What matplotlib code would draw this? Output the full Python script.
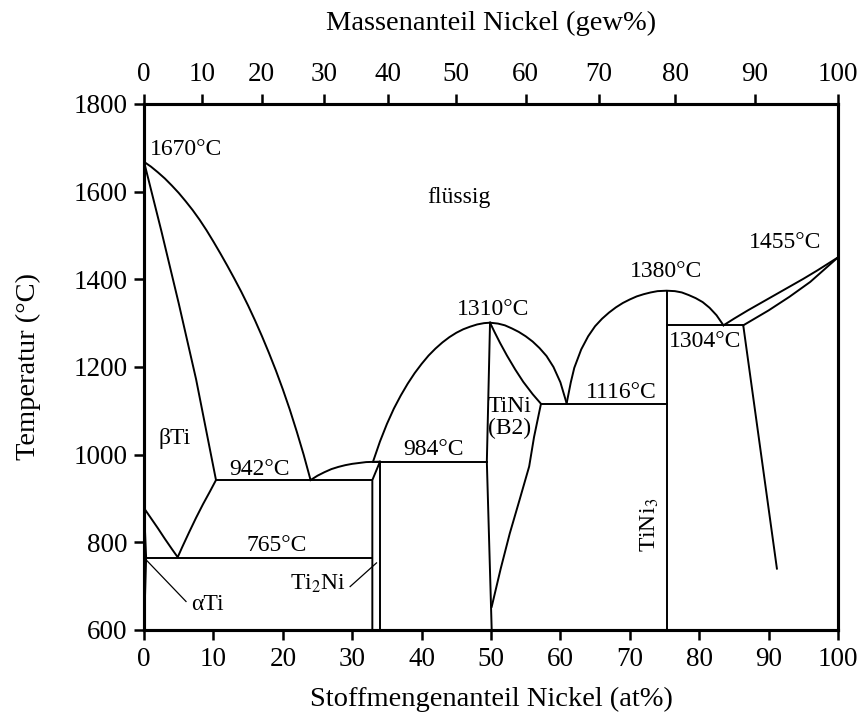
import numpy as np
import matplotlib.pyplot as plt

plt.rcParams['font.family'] = ['Liberation Serif', 'DejaVu Serif']
plt.rcParams['mathtext.fontset'] = 'stix'

# Phasengrenzen (x in at% Ni, T in °C)
liq_ti_x = [0, 1, 2, 3, 4, 5, 6, 7, 8, 9, 10, 11, 12, 13, 14, 15, 16, 17, 18, 19, 20, 21, 22, 23, 24]
liq_ti_T = [1668, 1657, 1644, 1630, 1614, 1597, 1578, 1558, 1536, 1512, 1486, 1459, 1431,
            1402, 1372, 1340, 1306, 1270, 1232, 1192, 1149, 1103, 1053, 1000, 942]

sol_ti_x = [0, 2.5, 5, 7.5, 10.37]
sol_ti_T = [1668, 1510, 1345, 1172, 942]

transus_x = [0, 1, 2, 3, 4, 4.85, 5.5, 6.5, 7.5, 8.5, 9.5, 10.37]
transus_T = [878, 855, 832, 808, 785, 766, 789, 823, 856, 887, 916, 942]

alpha_x = [0, 0.3, 0]
alpha_T = [878, 765, 600]

liq_eut_x = [24, 25, 26, 27, 28, 29, 30, 31, 32, 34]
liq_eut_T = [942, 952, 960, 967, 972, 976, 979, 981, 983, 984]

ti2ni_l_x = [32.9, 32.9, 34.0]
ti2ni_l_T = [600, 942, 984]
ti2ni_r_x = [34.0, 34.0]
ti2ni_r_T = [600, 984]

liq_tini_x = [33, 34, 35, 36, 37, 38, 39, 40, 41, 42, 43, 44, 45, 46, 47, 48, 49, 49.86,
              51, 52, 53, 54, 55, 56, 57, 58, 59, 60, 60.9]
liq_tini_T = [984, 1030, 1070, 1105, 1135, 1162, 1186, 1207, 1226, 1242, 1256, 1268, 1278,
              1286, 1292, 1297, 1300, 1301, 1299, 1295, 1288, 1280, 1270, 1258, 1243, 1225,
              1200, 1165, 1117]

tini_l_x = [49.86, 49.4, 50.1]
tini_l_T = [1301, 984, 600]
tini_r_x = [49.86, 50.5, 51.3, 52.3, 53.5, 54.65, 56, 57.2, 56.2, 55.5, 54.1, 52.7, 51.4, 50.1]
tini_r_T = [1301, 1280, 1255, 1226, 1194, 1166, 1138, 1116, 1040, 973, 896, 820, 740, 653]

liq_tini3_x = [60.9, 61.5, 62, 63, 64, 65, 66, 67, 68, 69, 70, 71, 72, 73, 74, 75.3,
               76.5, 77.5, 78.5, 79.5, 80.5, 81.5, 82.5, 83.5]
liq_tini3_T = [1117, 1165, 1198, 1240, 1270, 1293, 1310, 1324, 1336, 1346, 1354, 1361, 1366,
               1370, 1373, 1374, 1373, 1370, 1364, 1357, 1348, 1335, 1318, 1295]

tini3_x = [75.3, 75.3]
tini3_T = [600, 1374]

liq_ni_x = [83.5, 85, 87, 89, 91, 93, 95, 97, 100]
liq_ni_T = [1295, 1310, 1329, 1347, 1365, 1383, 1401, 1420, 1450]
sol_ni_x = [86.35, 90, 93, 96, 100]
sol_ni_T = [1295, 1329, 1360, 1394, 1450]
solvus_ni_x = [86.35, 91.2]
solvus_ni_T = [1295, 740]

# Horizontale Reaktionslinien: (x von, x bis, T)
isotherms = [(0.3, 32.9, 765), (10.37, 32.9, 942), (33.0, 49.4, 984),
             (57.2, 75.3, 1116), (75.3, 86.35, 1295)]

# Beschriftungen
labels = [
    (0.9, 1695, '1670°C', 'left'),
    (45.4, 1586, 'flüssig', 'center'),
    (92.4, 1483, '1455°C', 'center'),
    (75.2, 1417, '1380°C', 'center'),
    (50.3, 1330, '1310°C', 'center'),
    (80.8, 1258, '1304°C', 'center'),
    (68.8, 1141, '1116°C', 'center'),
    (52.7, 1110, 'TiNi', 'center'),
    (52.7, 1060, '(B2)', 'center'),
    (41.7, 1011, '984°C', 'center'),
    (16.7, 967, '942°C', 'center'),
    (4.47, 1037, 'βTi', 'center'),
    (19.1, 792, '765°C', 'center'),
    (25.1, 706, 'Ti$_2$Ni', 'center'),
    (9.1, 658, 'αTi', 'center'),
]

wt_ticks = [0, 10, 20, 30, 40, 50, 60, 70, 80, 90, 100]
at_ticks = [0, 10, 20, 30, 40, 50, 60, 70, 80, 90, 100]
T_ticks = [600, 800, 1000, 1200, 1400, 1600, 1800]

M_NI, M_TI = 58.69, 47.87


def wt_to_at(w):
    w = np.asarray(w, dtype=float)
    n_ni = w / M_NI
    n_ti = (100 - w) / M_TI
    return 100 * n_ni / (n_ni + n_ti)


fig = plt.figure(figsize=(8.63, 7.18), dpi=100)
ax = fig.add_axes([0.1669, 0.1226, 0.8041, 0.7326])

lw = 1.4
for xs, ts in [(liq_ti_x, liq_ti_T), (sol_ti_x, sol_ti_T), (transus_x, transus_T),
               (alpha_x, alpha_T), (liq_eut_x, liq_eut_T), (ti2ni_l_x, ti2ni_l_T),
               (ti2ni_r_x, ti2ni_r_T), (liq_tini_x, liq_tini_T), (tini_l_x, tini_l_T),
               (tini_r_x, tini_r_T), (liq_tini3_x, liq_tini3_T), (tini3_x, tini3_T),
               (liq_ni_x, liq_ni_T), (sol_ni_x, sol_ni_T), (solvus_ni_x, solvus_ni_T)]:
    ax.plot(xs, ts, color='black', lw=lw, solid_joinstyle='round')

for x0, x1, t in isotherms:
    ax.plot([x0, x1], [t, t], color='black', lw=lw)

# Hinweislinien
ax.plot([0.3, 6.05], [760, 665], color='black', lw=0.9)
ax.plot([29.7, 33.5], [699, 753], color='black', lw=0.9)

for x, t, s, ha in labels:
    ax.text(x, t, s, ha=ha, va='center', fontsize=17)
ax.text(72.9, 840, 'TiNi$_3$', rotation=90, ha='center', va='center', fontsize=17)

ax.set_xlim(0, 100)
ax.set_ylim(600, 1800)
ax.set_xticks(at_ticks)
ax.set_yticks(T_ticks)
ax.tick_params(direction='out', length=7, width=1.8, labelsize=19.5, pad=5)
for sp in ax.spines.values():
    sp.set_linewidth(2.2)
ax.set_xlabel('Stoffmengenanteil Nickel (at%)', fontsize=20.5, labelpad=11)
ax.set_ylabel('Temperatur (°C)', fontsize=20.5, labelpad=23)

top = ax.twiny()
top.set_xlim(0, 100)
top.set_xticks(wt_to_at(wt_ticks))
top.set_xticklabels([str(w) for w in wt_ticks])
top.tick_params(direction='out', length=7, width=1.8, labelsize=19.5, pad=5)
top.set_xlabel('Massenanteil Nickel (gew%)', fontsize=20.5, labelpad=23)
for sp in top.spines.values():
    sp.set_linewidth(2.2)

fig.savefig('out.png', dpi=100)
